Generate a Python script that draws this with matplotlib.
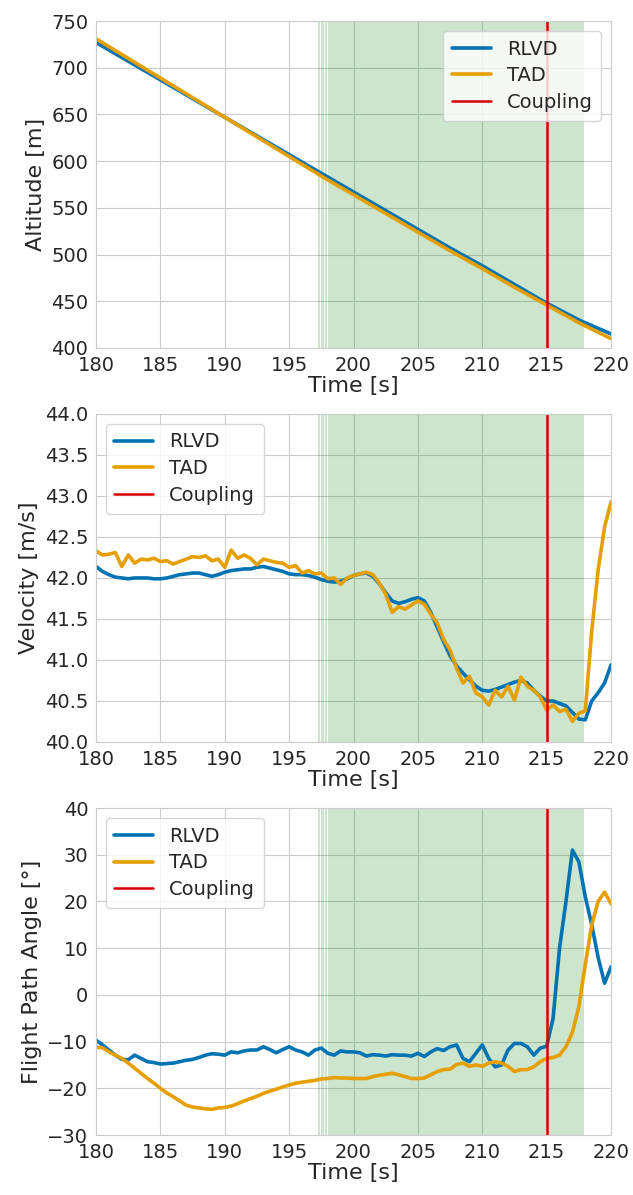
import numpy as np
import matplotlib
matplotlib.use('Agg')
import matplotlib.pyplot as plt
import seaborn as sns

sns.set_style('whitegrid')
plt.rcParams['font.family'] = ['DejaVu Sans']
c_rlvd = '#0173b2'
c_tad = '#e69f00'

# sample times of the logged signals [s]
time = np.arange(180, 220.5, 0.5)

# altitude is smooth, so a coarser sampling is enough
alt_time = [180, 182.5, 185, 187.5, 190, 192.5, 195, 197.5, 200, 202.5,
            205, 207.5, 210, 212.5, 215, 217.5, 220]
alt_rlvd = [727, 707, 687, 667, 647, 627, 607, 587, 567, 547,
            527, 507, 488, 468, 448, 430, 415]
alt_tad = [731, 710, 689, 668, 647, 626, 605, 584, 564, 544,
           524, 504, 485, 465, 446, 427, 410]

vel_rlvd = [42.14, 42.08, 42.04, 42.01, 42.00, 41.99, 42.00, 42.00, 42.00, 41.99,
            41.99, 42.00, 42.02, 42.04, 42.05, 42.06, 42.06, 42.04, 42.02, 42.04,
            42.07, 42.09, 42.10, 42.11, 42.11, 42.13, 42.14, 42.12, 42.10, 42.08,
            42.05, 42.04, 42.04, 42.03, 42.01, 41.98, 41.96, 41.95, 41.96, 41.99,
            42.03, 42.05, 42.06, 42.02, 41.93, 41.82, 41.72, 41.69, 41.71, 41.74,
            41.76, 41.72, 41.58, 41.40, 41.22, 41.05, 40.93, 40.84, 40.76, 40.68,
            40.63, 40.62, 40.64, 40.67, 40.70, 40.73, 40.75, 40.72, 40.63, 40.56,
            40.50, 40.50, 40.47, 40.44, 40.36, 40.28, 40.27, 40.50, 40.60, 40.72,
            40.94]
vel_tad = [42.33, 42.28, 42.29, 42.31, 42.14, 42.28, 42.18, 42.23, 42.22, 42.24,
           42.20, 42.21, 42.17, 42.20, 42.23, 42.26, 42.25, 42.27, 42.21, 42.23,
           42.13, 42.34, 42.24, 42.28, 42.24, 42.16, 42.23, 42.21, 42.19, 42.18,
           42.13, 42.15, 42.06, 42.09, 42.05, 42.06, 41.99, 42.00, 41.92, 42.00,
           42.03, 42.05, 42.07, 42.04, 41.94, 41.80, 41.58, 41.65, 41.62, 41.67,
           41.72, 41.68, 41.56, 41.45, 41.25, 41.12, 40.90, 40.72, 40.80, 40.60,
           40.55, 40.45, 40.63, 40.55, 40.68, 40.51, 40.79, 40.68, 40.63, 40.55,
           40.39, 40.45, 40.37, 40.40, 40.25, 40.35, 40.38, 41.35, 42.10, 42.62,
           42.93]

fpa_rlvd = [-9.7, -10.7, -11.8, -12.9, -13.8, -13.9, -12.9, -13.6, -14.3, -14.5,
            -14.8, -14.7, -14.6, -14.3, -14.0, -13.8, -13.4, -12.9, -12.6, -12.7,
            -12.9, -12.2, -12.4, -12.0, -11.8, -11.8, -11.1, -11.7, -12.4, -11.7,
            -11.1, -11.8, -12.2, -12.9, -11.8, -11.4, -12.5, -12.9, -12.0, -12.2,
            -12.2, -12.4, -13.1, -12.8, -12.9, -13.1, -12.8, -12.9, -12.9, -13.1,
            -12.5, -13.2, -12.2, -11.5, -11.9, -11.1, -10.7, -13.6, -14.3, -12.5,
            -10.7, -13.6, -15.4, -15.0, -11.8, -10.4, -10.4, -11.1, -12.9, -11.4,
            -11.0, -5.0, 10.0, 20.0, 31.0, 28.5, 21.0, 15.0, 8.0, 2.5,
            6.0]
fpa_tad = [-11.2, -11.3, -12.2, -12.9, -13.6, -14.6, -15.7, -16.8, -17.9, -18.9,
           -20.0, -21.0, -21.8, -22.7, -23.6, -24.0, -24.2, -24.4, -24.5, -24.2,
           -24.1, -23.8, -23.3, -22.7, -22.2, -21.7, -21.1, -20.6, -20.2, -19.7,
           -19.3, -18.9, -18.7, -18.5, -18.3, -18.0, -17.9, -17.7, -17.8, -17.8,
           -17.9, -17.9, -17.9, -17.5, -17.2, -17.0, -16.8, -17.1, -17.5, -17.9,
           -17.9, -17.8, -17.1, -16.4, -16.0, -15.9, -14.9, -14.6, -15.3, -15.0,
           -15.3, -14.6, -14.3, -14.6, -15.3, -16.4, -16.0, -16.0, -15.4, -14.3,
           -13.6, -13.4, -12.9, -11.1, -8.0, -2.5, 6.5, 15.0, 20.0, 22.0,
           19.5]

# intervals of the shaded phase [s]
phase_spans = [(197.25, 197.42), (197.48, 197.72), (197.78, 197.95), (198.05, 217.9)]
t_coupling = 215.0

panels = [
    (alt_time, alt_rlvd, alt_tad, 'Altitude [m]', (400, 750), np.arange(400, 751, 50), 'upper right'),
    (time, vel_rlvd, vel_tad, 'Velocity [m/s]', (40, 44), np.arange(40, 44.01, 0.5), 'upper left'),
    (time, fpa_rlvd, fpa_tad, 'Flight Path Angle [°]', (-30, 40), np.arange(-30, 41, 10), 'upper left'),
]
positions = [
    [0.1517, 0.7088, 0.8136, 0.2736],
    [0.1517, 0.3791, 0.8136, 0.2745],
    [0.1517, 0.0502, 0.8136, 0.2736],
]

fig = plt.figure(figsize=(6.33, 11.95), dpi=100)

for (tx, rlvd, tad, ylabel, ylim, yticks, loc), pos in zip(panels, positions):
    ax = fig.add_axes(pos)
    ax.plot(tx, rlvd, color=c_rlvd, lw=2.6, label='RLVD')
    ax.plot(tx, tad, color=c_tad, lw=2.6, label='TAD')
    for a, b in phase_spans:
        ax.axvspan(a, b, color='g', alpha=0.2, lw=0)
    ax.axvline(t_coupling, color='#d80000', lw=1.8, label='Coupling')
    ax.set_xlim(180, 220)
    ax.set_xticks(np.arange(180, 221, 5))
    ax.set_ylim(*ylim)
    ax.set_yticks(yticks)
    if ylim == (40, 44):
        ax.yaxis.set_major_formatter(matplotlib.ticker.FormatStrFormatter('%.1f'))
    ax.tick_params(labelsize=14, colors='.15', pad=2)
    ax.set_xlabel('Time [s]', fontsize=16, color='.15', labelpad=1)
    ax.set_ylabel(ylabel, fontsize=16, color='.15', labelpad=4)
    ax.legend(loc=loc, fontsize=14, handlelength=2.0, borderpad=0.45, labelspacing=0.4)

fig.savefig('out.png', dpi=100)
